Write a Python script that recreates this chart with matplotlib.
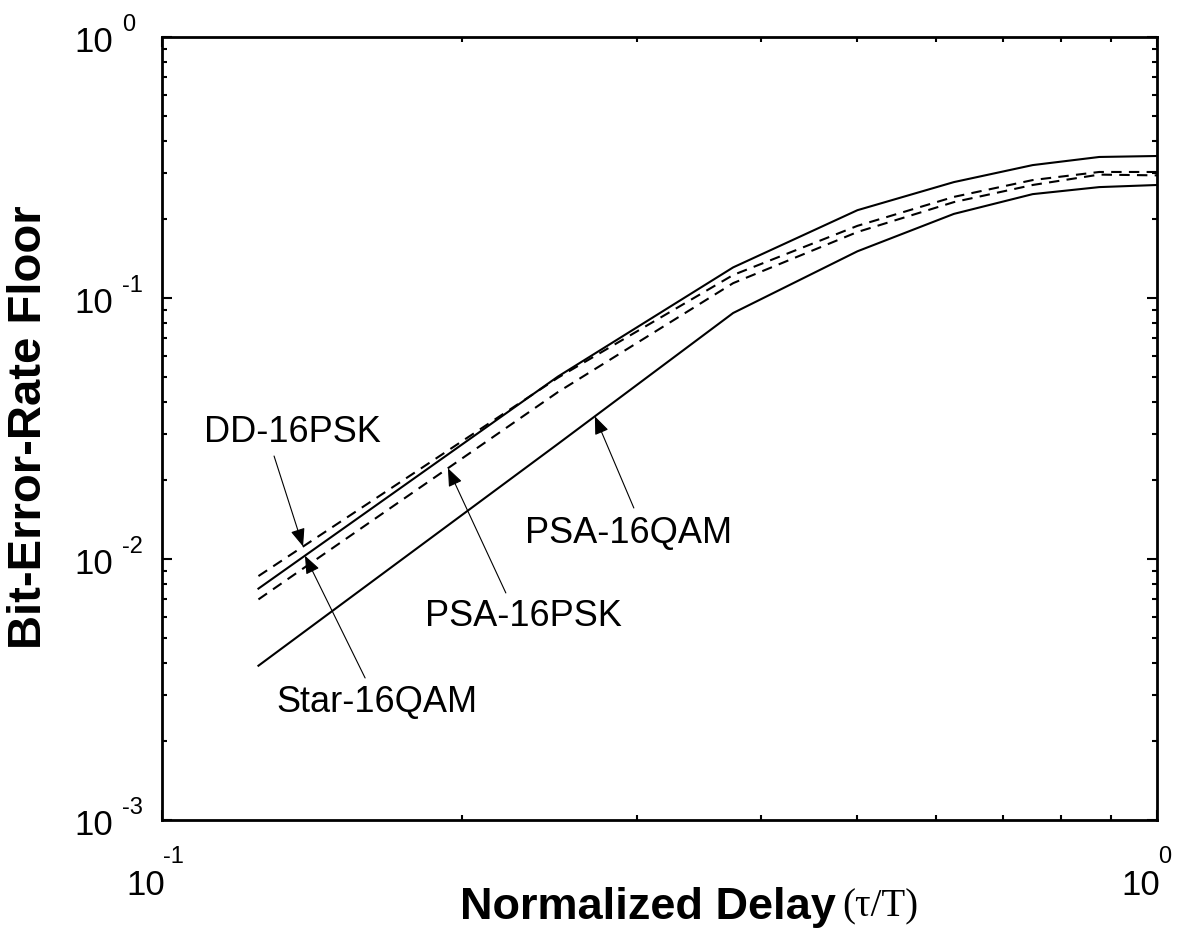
import numpy as np
import matplotlib
matplotlib.use("Agg")
import matplotlib.pyplot as plt
from matplotlib.ticker import LogLocator, NullFormatter


# normalized delay tau/T and BER floor
delay = [0.125, 0.25, 0.375, 0.5, 0.625, 0.75, 0.875, 1.0]
star_16qam = [0.0077, 0.050, 0.131, 0.217, 0.278, 0.323, 0.347, 0.350]
psa_16qam = [0.0039, 0.0276, 0.0876, 0.151, 0.210, 0.250, 0.266, 0.271]
dd_16psk = [0.0086, 0.0495, 0.1225, 0.189, 0.244, 0.283, 0.304, 0.304]
psa_16psk = [0.0070, 0.0436, 0.114, 0.179, 0.233, 0.271, 0.297, 0.295]

x_decades = [-1, 0]
y_decades = [-3, -2, -1, 0]

plt.rcParams["font.family"] = ["Liberation Sans", "DejaVu Sans"]


def on_curve(series, x):
    # y of a curve at x, interpolated in log-log space (for arrow tips)
    return 10 ** np.interp(np.log10(x), np.log10(delay), np.log10(series))


fig = plt.figure(figsize=(11.87, 9.44), dpi=100)
ax = fig.add_axes([0.1365, 0.1314, 0.8382, 0.8294])

ax.plot(delay, star_16qam, color="black", lw=1.5)
ax.plot(delay, psa_16qam, color="black", lw=1.5)
ax.plot(delay, dd_16psk, color="black", lw=1.5, dashes=(5, 3.5))
ax.plot(delay, psa_16psk, color="black", lw=1.5, dashes=(5, 3.5))

ax.set_xscale("log")
ax.set_yscale("log")
ax.set_xlim(0.1, 1.0)
ax.set_ylim(1e-3, 1.0)

ax.yaxis.set_major_locator(LogLocator(base=10, numticks=10))
ax.yaxis.set_minor_locator(LogLocator(base=10, subs=np.arange(2, 10), numticks=10))
ax.xaxis.set_minor_locator(LogLocator(base=10, subs=np.arange(2, 10), numticks=10))
ax.xaxis.set_minor_formatter(NullFormatter())
ax.yaxis.set_minor_formatter(NullFormatter())

ax.tick_params(which="both", direction="in", top=True, right=True, width=1.5,
               labelbottom=False, labelleft=False)
ax.tick_params(which="major", length=7)
ax.tick_params(which="minor", length=3.6)
for s in ax.spines.values():
    s.set_linewidth(2)

# tick labels drawn as "10" plus a raised exponent
for d in x_decades:
    ax.annotate("10", xy=(10.0 ** d, 0), xycoords=("data", "axes fraction"),
                xytext=(2, -47.5), textcoords="offset points",
                fontsize=25, ha="right", va="center")
    ax.annotate(str(d), xy=(10.0 ** d, 0), xycoords=("data", "axes fraction"),
                xytext=(0.5, -26.6), textcoords="offset points",
                fontsize=17, ha="left", va="center")
for d in y_decades:
    ax.annotate("10", xy=(0, 10.0 ** d), xycoords=("axes fraction", "data"),
                xytext=(-35.3, -4.3), textcoords="offset points",
                fontsize=25, ha="right", va="center")
    ax.annotate(str(d), xy=(0, 10.0 ** d), xycoords=("axes fraction", "data"),
                xytext=(-29, 8.6), textcoords="offset points",
                fontsize=17, ha="left", va="center")

# curve labels with arrows
labels = [
    ("DD-16PSK", dd_16psk, (0.1351, 0.0304), (0.1296, 0.0248), 0.1386),
    ("Star-16QAM", star_16qam, (0.1644, 0.00281), (0.160, 0.0035), 0.1392),
    ("PSA-16PSK", psa_16psk, (0.2306, 0.0060), (0.2216, 0.00741), 0.1938),
    ("PSA-16QAM", psa_16qam, (0.2946, 0.01247), (0.298, 0.01568), 0.2723),
]
for name, series, txt_pos, tail, tip_x in labels:
    ax.text(txt_pos[0], txt_pos[1], name, fontsize=26, ha="center", va="center")
    ax.annotate("", xy=(tip_x, on_curve(series, tip_x)), xytext=tail,
                arrowprops=dict(arrowstyle="-|>,head_length=0.55,head_width=0.22",
                                mutation_scale=20, lw=0.8, color="black",
                                shrinkA=0, shrinkB=0))

# axis titles
fig.text(836 / 1187, 1 - 907 / 944, "Normalized Delay", fontsize=32.5,
         fontweight="bold", ha="right", va="center")
fig.text(842 / 1187, 1 - 907 / 944, "(\u03c4/T)", fontsize=28,
         family="Liberation Serif", ha="left", va="center")
fig.text(29 / 1187, 1 - 427 / 944, "Bit-Error-Rate Floor", fontsize=34,
         fontweight="bold", rotation=90, ha="center", va="center")

fig.savefig("out.png", dpi=100)
